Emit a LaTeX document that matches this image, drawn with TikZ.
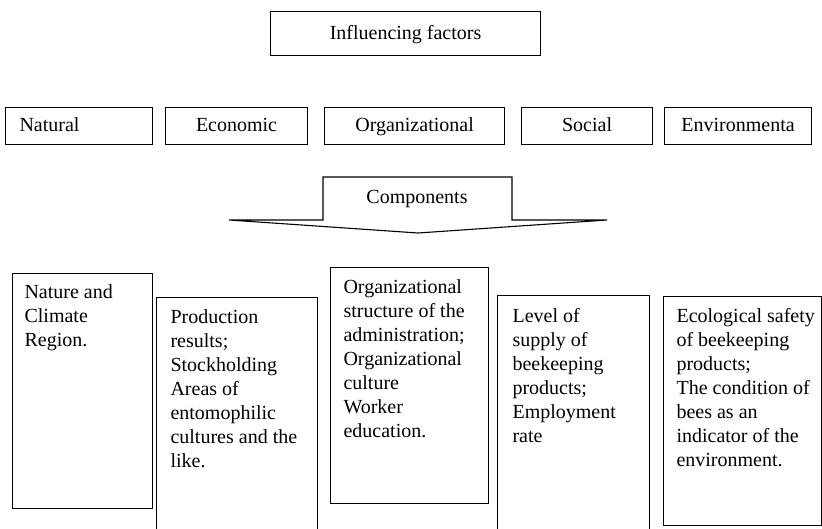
\documentclass[tikz,border=0pt]{standalone}
\usepackage{fontspec}
\setmainfont{Liberation Serif}
\begin{document}
\begin{tikzpicture}[x=1pt, y=-1pt, line width=1.1pt,
    every node/.style={font=\fontsize{20}{24}\selectfont},
    factor/.style={draw, anchor=north west, minimum height=37pt, inner sep=0pt, text height=14pt, text depth=3pt},
    part/.style={draw, anchor=north west, inner sep=0pt},
    parttext/.style={anchor=north west, align=left, inner sep=0pt}]
    \useasboundingbox (0,0) rectangle (822,528);

    % Header
    \node[draw, anchor=north west, minimum width=270pt, minimum height=44pt, inner sep=0pt, text height=14pt, text depth=3pt] (head) at (270,11) {Influencing factors};

    % Factors row
    \node[factor, minimum width=147pt, inner xsep=14pt, text width=119pt, align=left] (natural) at (5,107) {Natural};
    \node[factor, minimum width=142pt] (economic) at (165,107) {Economic};
    \node[factor, minimum width=180pt] (organiz) at (324,107) {Organizational};
    \node[factor, minimum width=131pt] (social) at (521,107) {Social};
    \node[factor, minimum width=147pt] (environ) at (664,107) {Environmenta};

    % Components arrow
    \draw (323,177) -- (512,177) -- (512,220) -- (607,220) -- (418,233) -- (229,220) -- (323,220) -- cycle;
    \node[text height=14pt, text depth=3pt] (comp) at (417,198) {Components};

    % Component boxes
    \node[part, minimum width=140pt, minimum height=235pt] (nat) at (12,273) {};
    \node[part, minimum width=161pt, minimum height=250pt] (eco) at (156,297) {};
    \node[part, minimum width=158pt, minimum height=236pt] (org) at (330,267) {};
    \node[part, minimum width=152pt, minimum height=250pt] (soc) at (497,295) {};
    \node[part, minimum width=158pt, minimum height=229pt] (env) at (663,296) {};

    % Component texts
    \node[parttext] (nattext) at ([shift={(12,11.5)}]nat.north west) {Nature and\\ Climate\\ Region.};
    \node[parttext] (ecotext) at ([shift={(14,12)}]eco.north west) {Production\\ results;\\ Stockholding\\ Areas of\\ entomophilic\\ cultures and the\\ like.};
    \node[parttext] (orgtext) at ([shift={(13,12)}]org.north west) {Organizational\\ structure of the\\ administration;\\ Organizational\\ culture\\ Worker\\ education.};
    \node[parttext] (soctext) at ([shift={(15,12.5)}]soc.north west) {Level of\\ supply of\\ beekeeping\\ products;\\ Employment\\ rate};
    \node[parttext] (envtext) at ([shift={(13,11.5)}]env.north west) {Ecological safety\\ of beekeeping\\ products;\\ The condition of\\ bees as an\\ indicator of the\\ environment.};
\end{tikzpicture}
\end{document}
